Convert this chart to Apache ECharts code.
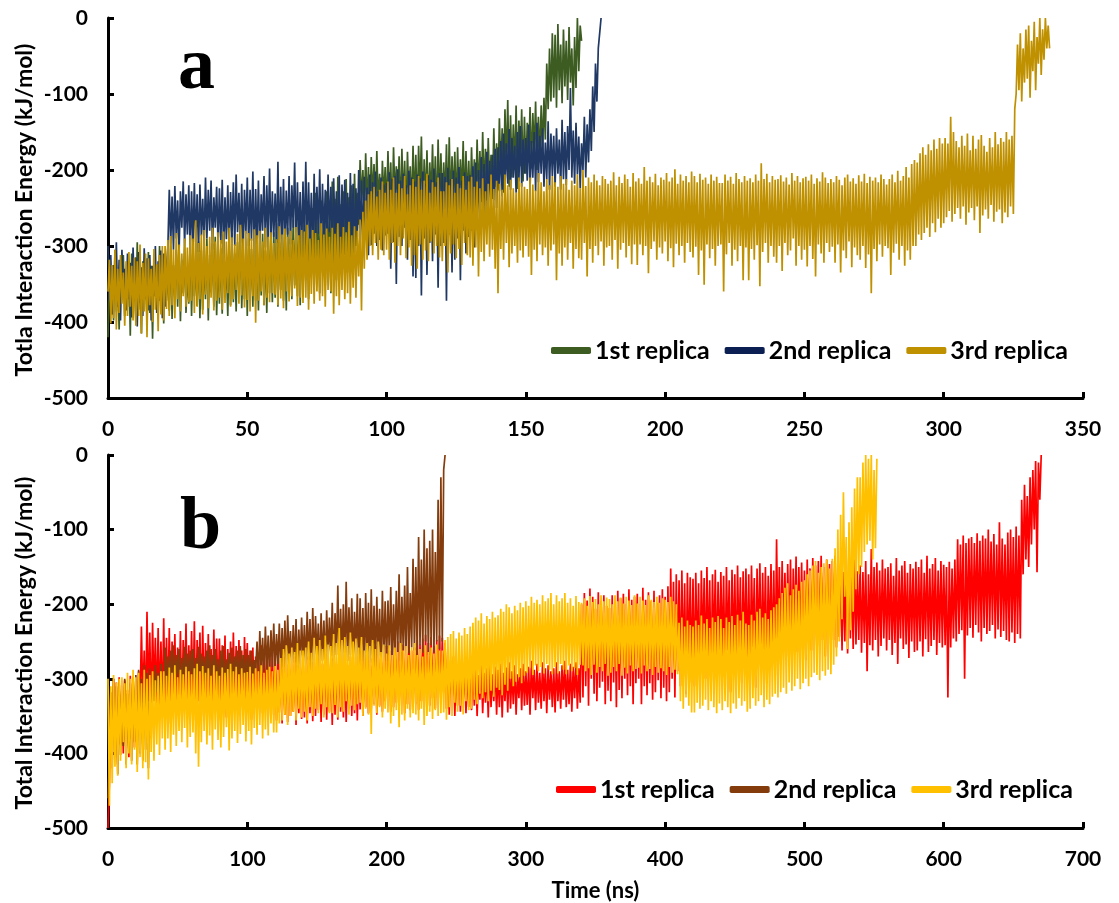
<!DOCTYPE html>
<html>
<head>
<meta charset="utf-8">
<script src="https://cdn.jsdelivr.net/npm/echarts/dist/echarts.min.js"></script>
<style>
html, body { margin: 0; padding: 0; background: #fff; }
#chart { width: 1119px; height: 903px; }
</style>
</head>
<body>
<div id="chart"></div>
<script>
// panel a: one sample every 0.5 ns, each row = 10 ns
const stepA = 0.5;
const replicaNames = ['1st replica', '2nd replica', '3rd replica'];
const xTicksA = [0, 50, 100, 150, 200, 250, 300, 350];
const xTicksB = [0, 100, 200, 300, 400, 500, 600, 700];
const yTicks = [-500, -400, -300, -200, -100, 0];

const a1st = [
  -420,-318,-372,-335,-398,-305,-386,-340,-410,-325,-365,-312,-392,-350,-380,-322,-418,-310,-376,-345,
  -400,-295,-384,-330,-415,-320,-370,-342,-395,-308,-388,-326,-422,-316,-366,-338,-388,-300,-375,-328,
  -402,-310,-372,-332,-385,-298,-396,-325,-368,-305,-380,-292,-399,-318,-362,-300,-388,-336,-376,-289,
  -392,-302,-366,-326,-379,-294,-395,-306,-384,-320,-370,-290,-398,-312,-361,-297,-380,-288,-391,-316,
  -376,-303,-389,-285,-364,-322,-392,-298,-378,-283,-374,-310,-386,-295,-360,-279,-382,-318,-370,-300,
  -392,-290,-368,-304,-380,-278,-372,-315,-385,-292,-365,-284,-378,-306,-388,-275,-362,-298,-374,-282,
  -368,-270,-380,-295,-358,-262,-372,-284,-385,-276,-360,-290,-370,-265,-352,-280,-366,-250,-378,-272,
  -360,-262,-345,-245,-370,-272,-338,-250,-355,-230,-348,-258,-362,-240,-335,-266,-352,-228,-340,-245,
  -362,-215,-330,-238,-345,-209,-320,-245,-340,-228,-312,-212,-335,-236,-318,-220,-342,-205,-300,-230,
  -272,-187,-240,-200,-262,-178,-250,-196,-268,-183,-236,-192,-258,-175,-245,-205,-270,-188,-238,-196,
  -255,-175,-248,-190,-268,-170,-236,-195,-250,-182,-262,-172,-244,-188,-265,-176,-240,-195,-256,-168,
  -248,-180,-262,-168,-236,-156,-270,-186,-245,-174,-258,-190,-240,-166,-252,-182,-266,-160,-244,-178,
  -258,-190,-240,-166,-260,-157,-250,-182,-238,-176,-254,-170,-246,-186,-235,-162,-250,-175,-242,-188,
  -252,-170,-236,-186,-248,-160,-230,-175,-242,-150,-228,-172,-240,-158,-225,-180,-238,-145,-222,-165,
  -226,-132,-205,-145,-230,-120,-198,-108,-222,-128,-210,-140,-200,-115,-225,-135,-195,-120,-215,-130,
  -205,-138,-190,-117,-198,-125,-180,-110,-200,-130,-185,-115,-175,-105,-160,-60,-120,-40,-110,-20,
  -105,-22,-118,-8,-95,-35,-112,-15,-90,-30,-108,-12,-85,-40,-115,-25,-92,0,-70,-10,
  -30
];

const a2nd = [
  -300,-372,-312,-390,-325,-365,-295,-380,-318,-398,-305,-362,-330,-385,-310,-370,-322,-394,-302,-368,
  -315,-406,-308,-375,-328,-392,-303,-370,-316,-385,-312,-398,-326,-366,-300,-388,-320,-372,-306,-395,
  -310,-380,-330,-300,-226,-298,-235,-305,-221,-290,-240,-312,-228,-276,-215,-300,-232,-285,-220,-308,
  -228,-300,-217,-295,-232,-308,-219,-286,-238,-302,-210,-290,-226,-280,-214,-305,-236,-276,-222,-298,
  -224,-297,-213,-310,-236,-291,-220,-304,-229,-288,-216,-300,-206,-282,-230,-296,-218,-312,-226,-284,
  -210,-300,-226,-293,-202,-315,-225,-298,-214,-306,-232,-280,-208,-302,-220,-290,-198,-296,-228,-288,
  -231,-296,-189,-303,-222,-290,-212,-309,-227,-285,-208,-298,-220,-276,-190,-300,-216,-292,-229,-306,
  -215,-298,-189,-301,-216,-292,-230,-311,-205,-297,-222,-284,-199,-304,-218,-290,-226,-300,-206,-282,
  -222,-304,-211,-289,-228,-300,-207,-318,-219,-295,-213,-286,-230,-302,-204,-296,-218,-310,-224,-288,
  -200,-296,-214,-305,-209,-290,-223,-312,-206,-299,-216,-284,-202,-300,-228,-292,-210,-306,-219,-286,
  -217,-284,-203,-330,-212,-295,-208,-350,-199,-288,-214,-300,-205,-276,-220,-318,-201,-292,-210,-340,
  -215,-342,-206,-300,-211,-365,-202,-290,-218,-338,-207,-296,-213,-320,-198,-285,-216,-355,-204,-300,
  -204,-296,-209,-372,-197,-285,-212,-335,-201,-318,-210,-290,-196,-345,-214,-280,-203,-310,-208,-288,
  -207,-280,-195,-302,-190,-262,-200,-275,-183,-250,-192,-268,-176,-245,-188,-256,-180,-240,-172,-250,
  -170,-228,-162,-235,-152,-220,-165,-218,-146,-226,-158,-210,-168,-230,-150,-215,-142,-222,-160,-205,
  -158,-214,-140,-225,-162,-210,-150,-228,-138,-216,-155,-205,-145,-222,-164,-212,-136,-226,-152,-208,
  -155,-222,-145,-205,-160,-226,-134,-212,-150,-220,-142,-200,-92,-210,-148,-218,-138,-206,-156,-224,
  -165,-200,-130,-210,-140,-190,-120,-175,-90,-150,-60,-110,-40,-20,0
];

const a3rd = [
  -360,-318,-402,-325,-395,-305,-410,-330,-388,-312,-376,-335,-405,-320,-392,-308,-380,-326,-398,-315,
  -405,-320,-392,-298,-415,-322,-386,-310,-420,-316,-378,-330,-400,-304,-384,-324,-412,-312,-390,-300,
  -398,-300,-383,-292,-392,-287,-378,-305,-395,-283,-370,-298,-386,-310,-366,-290,-380,-302,-374,-286,
  -372,-290,-388,-266,-380,-296,-370,-285,-390,-279,-364,-300,-382,-288,-368,-276,-385,-294,-372,-282,
  -368,-292,-384,-281,-375,-294,-362,-276,-380,-289,-370,-298,-358,-284,-376,-272,-365,-290,-381,-280,
  -371,-283,-386,-290,-366,-278,-401,-286,-372,-280,-360,-294,-378,-276,-368,-288,-374,-282,-362,-296,
  -364,-291,-378,-274,-369,-285,-382,-277,-360,-288,-373,-280,-366,-292,-356,-275,-379,-286,-368,-279,
  -375,-281,-368,-272,-384,-290,-363,-279,-376,-283,-360,-292,-372,-270,-366,-285,-380,-277,-358,-288,
  -360,-276,-389,-284,-366,-270,-378,-288,-358,-275,-370,-282,-362,-268,-376,-286,-355,-274,-368,-280,
  -340,-265,-385,-255,-330,-240,-318,-232,-300,-228,-312,-222,-296,-235,-318,-226,-305,-215,-312,-230,
  -305,-215,-318,-226,-296,-210,-322,-230,-300,-218,-312,-224,-290,-208,-316,-232,-302,-220,-326,-212,
  -312,-222,-330,-208,-298,-226,-318,-214,-306,-205,-320,-230,-294,-216,-310,-222,-300,-210,-315,-228,
  -320,-228,-300,-216,-335,-220,-310,-212,-298,-230,-316,-218,-304,-224,-325,-208,-296,-226,-312,-215,
  -315,-209,-326,-222,-302,-215,-340,-224,-308,-211,-320,-228,-298,-218,-314,-206,-305,-225,-330,-214,
  -362,-218,-304,-226,-318,-206,-296,-220,-328,-213,-310,-224,-300,-230,-322,-210,-306,-217,-315,-222,
  -300,-225,-314,-210,-338,-219,-305,-227,-320,-204,-298,-216,-312,-228,-302,-212,-326,-220,-306,-208,
  -298,-216,-345,-222,-310,-208,-326,-218,-302,-212,-318,-226,-296,-214,-330,-220,-304,-206,-316,-224,
  -318,-200,-296,-221,-340,-210,-304,-216,-322,-206,-300,-214,-312,-220,-294,-208,-326,-212,-302,-218,
  -300,-214,-318,-203,-292,-220,-330,-209,-305,-217,-296,-206,-315,-212,-300,-222,-324,-204,-298,-215,
  -325,-211,-298,-218,-312,-196,-300,-214,-336,-209,-304,-216,-294,-205,-318,-220,-302,-210,-310,-213,
  -294,-204,-320,-215,-303,-210,-328,-199,-297,-218,-312,-206,-300,-214,-322,-208,-296,-216,-308,-202,
  -315,-208,-301,-216,-338,-205,-306,-213,-351,-210,-298,-218,-316,-206,-304,-214,-326,-209,-300,-217,
  -298,-217,-360,-206,-311,-214,-296,-209,-326,-218,-305,-204,-320,-212,-300,-216,-345,-208,-302,-214,
  -345,-211,-304,-216,-318,-206,-299,-214,-353,-191,-308,-212,-296,-205,-322,-216,-300,-208,-314,-213,
  -322,-212,-300,-207,-333,-215,-296,-210,-312,-219,-306,-204,-290,-214,-326,-208,-300,-216,-318,-211,
  -305,-209,-327,-214,-300,-206,-317,-218,-340,-211,-298,-215,-310,-203,-322,-210,-296,-217,-308,-212,
  -301,-216,-322,-208,-298,-213,-335,-220,-306,-210,-316,-206,-294,-215,-328,-211,-302,-218,-312,-207,
  -318,-215,-300,-205,-329,-217,-311,-209,-362,-214,-304,-210,-320,-216,-298,-206,-314,-212,-300,-219,
  -303,-212,-338,-206,-309,-216,-297,-201,-318,-214,-300,-208,-326,-196,-306,-210,-318,-192,-300,-187,
  -300,-190,-285,-178,-292,-170,-283,-180,-276,-166,-288,-174,-270,-160,-282,-172,-264,-158,-276,-165,
  -270,-158,-262,-165,-254,-130,-268,-150,-258,-162,-250,-170,-264,-155,-248,-168,-272,-152,-256,-174,
  -250,-155,-266,-172,-248,-160,-283,-154,-260,-168,-252,-176,-264,-158,-246,-170,-268,-150,-255,-166,
  -252,-158,-270,-163,-256,-150,-262,-160,-248,-155,-258,-120,-100,-35,-95,-20,-110,-40,-85,-15,
  -80,-10,-105,-30,-70,-5,-95,-25,-60,0,-75,-15,-55,0,-40,-10,-40
];

// panel b: one sample every 1 ns, each row = 20 ns
const stepB = 1;

const b1st = [
  -500,-440,-330,-410,-300,-395,-305,-415,-298,-388,-310,-400,-302,-372,-315,-405,-296,-380,-308,-392,
  -300,-372,-290,-345,-230,-332,-262,-348,-210,-330,-238,-352,-225,-320,-245,-340,-232,-336,-250,-345,
  -219,-352,-245,-335,-232,-360,-250,-328,-240,-345,-258,-330,-236,-350,-248,-322,-226,-340,-255,-334,
  -236,-340,-223,-356,-248,-330,-238,-350,-229,-338,-252,-326,-240,-348,-260,-332,-234,-344,-246,-328,
  -246,-344,-255,-331,-242,-352,-260,-336,-250,-348,-238,-330,-256,-342,-248,-326,-262,-350,-244,-334,
  -252,-340,-262,-355,-258,-338,-270,-350,-265,-342,-255,-346,-268,-332,-260,-352,-272,-336,-264,-348,
  -272,-356,-268,-345,-276,-360,-270,-348,-280,-358,-266,-350,-278,-344,-270,-362,-282,-346,-274,-354,
  -274,-352,-282,-360,-270,-346,-278,-357,-268,-350,-284,-342,-272,-358,-280,-348,-266,-355,-276,-344,
  -276,-362,-272,-348,-280,-355,-266,-344,-274,-352,-268,-358,-282,-340,-270,-350,-278,-346,-264,-356,
  -270,-341,-262,-350,-268,-338,-258,-346,-264,-340,-272,-334,-256,-348,-266,-336,-260,-344,-268,-330,
  -256,-336,-262,-344,-252,-338,-260,-332,-250,-340,-264,-330,-254,-346,-258,-334,-248,-342,-262,-328,
  -258,-334,-248,-342,-254,-330,-246,-338,-241,-328,-252,-336,-244,-326,-256,-340,-248,-332,-242,-324,
  -245,-318,-252,-340,-262,-348,-276,-330,-270,-350,-285,-336,-278,-344,-290,-328,-282,-346,-288,-338,
  -280,-342,-290,-336,-284,-350,-295,-328,-282,-346,-292,-332,-286,-352,-278,-338,-294,-330,-284,-348,
  -288,-338,-280,-352,-292,-330,-285,-345,-278,-340,-290,-334,-282,-348,-294,-326,-286,-342,-280,-336,
  -290,-335,-284,-348,-276,-326,-288,-342,-280,-332,-292,-340,-278,-330,-286,-346,-282,-328,-290,-338,
  -286,-345,-278,-330,-290,-340,-282,-328,-276,-338,-288,-334,-280,-344,-284,-326,-278,-340,-286,-332,
  -200,-325,-185,-310,-195,-336,-179,-300,-190,-320,-206,-330,-184,-312,-196,-304,-188,-334,-202,-316,
  -205,-330,-188,-305,-198,-338,-182,-315,-192,-326,-186,-300,-200,-322,-180,-310,-194,-334,-190,-306,
  -186,-300,-200,-334,-178,-310,-194,-322,-184,-306,-196,-328,-182,-318,-198,-302,-188,-326,-180,-312,
  -190,-330,-176,-318,-152,-300,-170,-325,-160,-290,-168,-310,-155,-296,-172,-320,-158,-286,-164,-305,
  -166,-310,-158,-282,-172,-320,-155,-268,-165,-300,-150,-276,-168,-312,-160,-270,-154,-295,-170,-280,
  -157,-275,-162,-310,-150,-262,-168,-318,-154,-270,-160,-298,-148,-265,-164,-305,-156,-272,-152,-290,
  -160,-300,-148,-258,-165,-312,-152,-265,-145,-290,-158,-270,-150,-306,-162,-262,-146,-280,-155,-296,
  -113,-255,-150,-280,-142,-248,-158,-270,-146,-252,-140,-276,-152,-246,-136,-264,-150,-258,-144,-272,
  -155,-275,-140,-245,-152,-262,-138,-250,-148,-268,-142,-256,-135,-248,-150,-270,-140,-252,-146,-260,
  -142,-248,-135,-258,-150,-244,-146,-262,-157,-250,-138,-266,-148,-246,-152,-260,-140,-254,-156,-248,
  -148,-265,-157,-252,-142,-290,-160,-255,-126,-262,-150,-248,-144,-270,-155,-256,-140,-246,-152,-262,
  -150,-248,-145,-268,-162,-252,-138,-280,-155,-246,-148,-260,-142,-254,-158,-272,-146,-250,-152,-264,
  -143,-262,-150,-250,-140,-270,-158,-247,-135,-264,-152,-256,-146,-248,-138,-268,-155,-252,-142,-258,
  -147,-255,-150,-325,-143,-258,-152,-246,-140,-250,-113,-240,-120,-235,-108,-300,-118,-242,-112,-232,
  -110,-245,-118,-228,-105,-238,-115,-250,-108,-232,-112,-240,-100,-236,-116,-228,-106,-246,-120,-234,
  -90,-244,-112,-236,-120,-248,-104,-250,-100,-238,-110,-252,-96,-240,-108,-246,-60,-160,-40,-140,
  -55,-150,-30,-120,-20,-100,-8,-157,-10,-60,0
];

const b2nd = [
  -460,-405,-318,-420,-300,-398,-310,-428,-305,-402,-312,-390,-300,-415,-320,-396,-306,-410,-298,-385,
  -295,-415,-288,-400,-300,-410,-282,-395,-292,-420,-286,-380,-296,-330,-282,-318,-292,-325,-280,-315,
  -322,-258,-315,-270,-305,-262,-320,-255,-310,-268,-300,-260,-318,-272,-306,-257,-312,-266,-302,-262,
  -302,-260,-318,-272,-300,-257,-312,-266,-296,-270,-310,-262,-304,-255,-316,-268,-298,-260,-308,-274,
  -315,-262,-305,-256,-318,-274,-300,-265,-312,-258,-306,-270,-298,-262,-314,-256,-302,-268,-310,-260,
  -298,-268,-310,-262,-302,-275,-290,-250,-300,-236,-292,-245,-296,-230,-288,-242,-294,-235,-284,-226,
  -288,-240,-280,-226,-292,-232,-284,-222,-290,-215,-276,-236,-286,-228,-278,-220,-290,-234,-282,-218,
  -278,-228,-286,-210,-275,-220,-292,-205,-280,-216,-272,-226,-288,-212,-276,-222,-284,-208,-270,-218,
  -270,-198,-284,-212,-268,-175,-282,-206,-274,-200,-286,-170,-276,-204,-268,-192,-280,-210,-272,-186,
  -286,-192,-276,-205,-290,-185,-272,-198,-297,-180,-278,-202,-284,-190,-270,-206,-288,-182,-274,-196,
  -276,-195,-268,-177,-285,-200,-270,-182,-264,-160,-276,-190,-262,-175,-280,-150,-266,-185,-258,-139,
  -262,-150,-270,-110,-255,-140,-265,-100,-250,-125,-268,-115,-255,-100,-265,-130,-250,-60,-260,-30,
  -250,-20,0
];

const b3rd = [
  -300,-470,-310,-440,-295,-418,-305,-430,-300,-410,-298,-385,-306,-420,-292,-400,-300,-415,-288,-395,
  -298,-425,-292,-405,-306,-420,-288,-412,-300,-435,-295,-398,-290,-410,-302,-388,-296,-402,-290,-380,
  -290,-395,-296,-380,-285,-398,-292,-375,-282,-390,-298,-370,-288,-385,-294,-366,-284,-392,-290,-378,
  -294,-372,-286,-400,-280,-418,-290,-385,-283,-370,-292,-388,-286,-376,-296,-395,-282,-368,-290,-382,
  -296,-392,-285,-378,-292,-365,-287,-396,-280,-380,-290,-370,-284,-386,-294,-374,-286,-362,-292,-384,
  -291,-370,-284,-388,-293,-366,-286,-375,-290,-362,-282,-380,-292,-368,-288,-376,-284,-360,-290,-372,
  -283,-372,-288,-360,-272,-356,-260,-348,-255,-362,-266,-350,-258,-344,-264,-356,-252,-340,-262,-352,
  -262,-344,-258,-356,-250,-338,-265,-350,-245,-340,-256,-346,-248,-334,-260,-352,-242,-338,-254,-346,
  -256,-346,-240,-335,-252,-352,-232,-338,-248,-344,-244,-330,-256,-348,-238,-336,-250,-342,-246,-334,
  -258,-332,-244,-350,-262,-340,-252,-348,-256,-374,-248,-336,-260,-346,-250,-338,-264,-352,-254,-340,
  -266,-345,-255,-360,-268,-350,-258,-342,-264,-365,-252,-348,-262,-356,-256,-340,-268,-352,-258,-346,
  -252,-348,-268,-356,-260,-340,-270,-362,-255,-350,-264,-344,-258,-354,-266,-342,-254,-350,-262,-346,
  -262,-345,-248,-355,-244,-338,-240,-350,-236,-332,-246,-344,-238,-336,-242,-348,-232,-330,-240,-342,
  -230,-340,-225,-328,-218,-334,-222,-320,-212,-326,-226,-318,-216,-330,-220,-316,-210,-324,-218,-312,
  -215,-315,-206,-322,-210,-308,-200,-316,-204,-300,-212,-310,-202,-304,-208,-298,-198,-306,-204,-296,
  -196,-292,-202,-286,-190,-295,-198,-282,-194,-290,-200,-284,-188,-293,-196,-280,-192,-288,-185,-294,
  -200,-284,-188,-293,-196,-280,-192,-288,-185,-294,-198,-282,-192,-290,-202,-286,-189,-295,-197,-281,
  -198,-282,-192,-290,-202,-286,-189,-295,-197,-281,-193,-292,-200,-284,-188,-290,-196,-280,-191,-296,
  -193,-292,-200,-284,-188,-290,-196,-280,-191,-296,-199,-285,-190,-293,-195,-282,-201,-290,-188,-287,
  -199,-285,-190,-293,-195,-282,-201,-290,-188,-287,-194,-295,-197,-284,-190,-292,-198,-286,-192,-290,
  -194,-295,-197,-284,-190,-292,-196,-288,-200,-294,-225,-330,-218,-340,-230,-325,-222,-336,-228,-345,
  -230,-345,-222,-332,-228,-340,-215,-336,-226,-328,-220,-342,-232,-330,-218,-338,-224,-346,-216,-333,
  -220,-342,-232,-330,-218,-338,-224,-346,-216,-333,-228,-340,-214,-326,-222,-336,-210,-330,-226,-344,
  -228,-340,-214,-326,-222,-336,-210,-330,-206,-322,-218,-338,-212,-328,-220,-334,-208,-324,-204,-320,
  -200,-325,-192,-318,-185,-312,-178,-320,-172,-305,-188,-316,-180,-310,-174,-300,-182,-314,-170,-306,
  -168,-300,-160,-310,-155,-298,-148,-292,-142,-295,-158,-302,-150,-290,-145,-296,-140,-288,-152,-294,
  -139,-281,-125,-270,-100,-250,-80,-220,-50,-190,-110,-260,-90,-235,-70,-210,-45,-180,-30,-160,
  -30,-150,-10,-130,0,-120,-5,-115,0,-140,-20,-125,-5
];

const coloursA = ['#3d5c22', '#203864', '#bf9000'];
const coloursB = ['#ff0000', '#843c0c', '#ffc000'];

const font = 'Lato';

// time axis comes from the sampling step
function toPoints(values, step) {
  return values.map((v, i) => [i * step, v]);
}

function makeSeries(prefix, list, step, colours, axisIndex) {
  return list.map((vals, k) => ({
    name: prefix + '|' + replicaNames[k],
    type: 'line',
    xAxisIndex: axisIndex,
    yAxisIndex: axisIndex,
    data: toPoints(vals, step),
    showSymbol: false,
    symbol: 'none',
    color: colours[k],
    lineStyle: { width: 1.7, color: colours[k], join: 'bevel' },
    emphasis: { disabled: true }
  }));
}

function xAxisFor(gridIndex, ticks, name) {
  return {
    type: 'value',
    gridIndex: gridIndex,
    min: ticks[0],
    max: ticks[ticks.length - 1],
    interval: ticks[1] - ticks[0],
    name: name,
    nameLocation: 'middle',
    nameGap: 52,
    nameTextStyle: { fontFamily: font, fontWeight: 'bold', fontSize: 22, color: '#000' },
    axisLine: { onZero: false, lineStyle: { color: '#000', width: 3 } },
    axisTick: { inside: true, length: 6, lineStyle: { color: '#000', width: 3 } },
    axisLabel: { fontFamily: font, fontWeight: 'bold', fontSize: 21, color: '#000', margin: 21 },
    splitLine: { show: false }
  };
}

function yAxisFor(gridIndex) {
  return {
    type: 'value',
    gridIndex: gridIndex,
    min: yTicks[0],
    max: yTicks[yTicks.length - 1],
    interval: 100,
    axisLine: { show: true, onZero: false, lineStyle: { color: '#000', width: 3 } },
    axisTick: { show: true, inside: true, length: 6, lineStyle: { color: '#000', width: 3 } },
    axisLabel: { fontFamily: font, fontWeight: 'bold', fontSize: 21, color: '#000', margin: 20 },
    splitLine: { show: false }
  };
}

function legendFor(prefix, left, top, darkSecond) {
  return {
    left: left,
    top: top,
    icon: 'roundRect',
    itemWidth: 40,
    itemHeight: 7,
    itemGap: 15,
    selectedMode: false,
    data: replicaNames.map((n, k) => {
      const item = { name: prefix + '|' + n };
      if (k === 1 && darkSecond) item.itemStyle = { color: darkSecond };
      return item;
    }),
    formatter: (n) => n.split('|')[1],
    textStyle: { fontFamily: font, fontWeight: 'bold', fontSize: 25, color: '#000', padding: [0, 0, 0, -1] }
  };
}

// rotated y-axis title
function yTitle(text, cy) {
  return {
    type: 'text',
    x: 25,
    y: cy,
    rotation: Math.PI / 2,
    style: {
      text: text,
      font: 'bold 23px Lato',
      fill: '#000',
      align: 'center',
      verticalAlign: 'middle'
    }
  };
}

const chart = echarts.init(document.getElementById('chart'));

const option = {
  animation: false,
  backgroundColor: '#fff',
  grid: [
    { left: 108, top: 18, width: 975, height: 380 },
    { left: 108, top: 455, width: 975, height: 377 }
  ],
  xAxis: [
    xAxisFor(0, xTicksA, ''),
    xAxisFor(1, xTicksB, 'Time (ns)')
  ],
  yAxis: [
    yAxisFor(0),
    yAxisFor(1)
  ],
  legend: [
    legendFor('a', 546, 333, '#0b1f52'),
    legendFor('b', 551, 772, null)
  ],
  graphic: [
    yTitle('Totla Interaction Energy (kJ/mol)', 210),
    yTitle('Total Interaction Energy (kJ/mol)', 643),
    { type: 'text', left: 178, top: 32, style: { text: 'a', font: 'bold 74px "Liberation Serif"', fill: '#000' } },
    { type: 'text', left: 180, top: 492, style: { text: 'b', font: 'bold 74px "Liberation Serif"', fill: '#000' } }
  ],
  series: [].concat(
    makeSeries('a', [a1st, a2nd, a3rd], stepA, coloursA, 0),
    makeSeries('b', [b1st, b2nd, b3rd], stepB, coloursB, 1)
  )
};

chart.setOption(option);
</script>
</body>
</html>
